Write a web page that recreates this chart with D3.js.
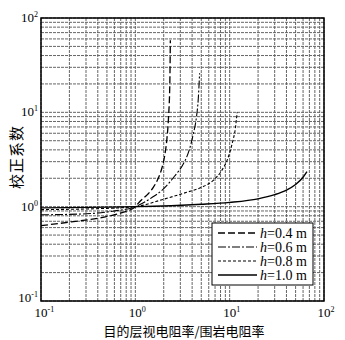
<!DOCTYPE html>
<html><head><meta charset="utf-8">
<script src="https://cdn.jsdelivr.net/npm/d3@7"></script>
<style>body{margin:0;background:#fff}</style>
</head><body>
<svg id="c" width="345" height="340"></svg>
<script>
const xTicks = [0.1, 1, 10, 100];
const yTicks = [0.1, 1, 10, 100];
const tickExp = ["-1", "0", "1", "2"];
const seriesNames = ["h=0.4 m", "h=0.6 m", "h=0.8 m", "h=1.0 m"];
const h04x = [0.1, 0.21, 0.48, 0.71, 1.0, 1.13, 1.35, 1.55, 1.75, 1.92, 2.05, 2.16, 2.25, 2.32, 2.35];
const h04y = [0.63, 0.69, 0.78, 0.86, 1.0, 1.15, 1.35, 1.6, 2.0, 2.6, 3.5, 5.2, 9.0, 20, 58];
const h06x = [0.1, 0.3, 0.6, 1.0, 1.5, 2.0, 2.6, 3.2, 3.7, 4.1, 4.45, 4.65, 4.8];
const h06y = [0.82, 0.84, 0.9, 1.0, 1.25, 1.55, 2.1, 2.8, 3.9, 5.8, 9.0, 14, 26];
const h08x = [0.1, 0.5, 1.0, 2.0, 3.5, 5.0, 6.7, 8.2, 9.5, 10.7, 11.5, 12];
const h08y = [0.93, 0.96, 1.0, 1.2, 1.42, 1.6, 1.9, 2.4, 3.2, 4.8, 6.8, 10];
const h10x = [0.1, 0.5, 1.0, 5, 10, 20, 30, 40, 50, 60, 66];
const h10y = [0.97, 0.99, 1.0, 1.06, 1.11, 1.21, 1.34, 1.5, 1.72, 2.05, 2.35];
const xTitle = "目的层视电阻率/围岩电阻率";
const yTitle = "校正系数";

const series = [
  {name: seriesNames[0], x: h04x, y: h04y, dash: "7,3", w: 1.3},
  {name: seriesNames[1], x: h06x, y: h06y, dash: "8,2,2,2", w: 1.1},
  {name: seriesNames[2], x: h08x, y: h08y, dash: "3,2", w: 1.1},
  {name: seriesNames[3], x: h10x, y: h10y, dash: null, w: 1.4}
];

const L = 41, R = 324, T = 18, B = 301;
const svg = d3.select("#c");
const x = d3.scaleLog().domain([0.1, 100]).range([L, R]);
const y = d3.scaleLog().domain([0.1, 100]).range([B, T]);

// grid
const minor = [];
[0.1, 1, 10].forEach(d => { for (let k = 1; k <= 9; k++) minor.push(d * k); });
minor.push(100);
const g = svg.append("g");
g.selectAll("line.vx").data(minor).join("line")
  .attr("x1", d => x(d)).attr("x2", d => x(d)).attr("y1", T).attr("y2", B)
  .attr("stroke", "#666").attr("stroke-width", 1).attr("stroke-dasharray", "3,1");
g.selectAll("line.hy").data(minor).join("line")
  .attr("y1", d => y(d)).attr("y2", d => y(d)).attr("x1", L).attr("x2", R)
  .attr("stroke", "#666").attr("stroke-width", 1).attr("stroke-dasharray", "3,1");

// curves
const line = d3.line().x(d => x(d[0])).y(d => y(d[1])).curve(d3.curveMonotoneX);
series.forEach(s => {
  svg.append("path").attr("d", line(s.x.map((v, i) => [v, s.y[i]])))
    .attr("fill", "none").attr("stroke", "#000").attr("stroke-width", s.w)
    .attr("stroke-dasharray", s.dash);
});

// frame
svg.append("rect").attr("x", L).attr("y", T).attr("width", R - L).attr("height", B - T)
  .attr("fill", "none").attr("stroke", "#000").attr("stroke-width", 1.5);

// tick labels
const serif = "'Liberation Serif','DejaVu Serif',serif";
xTicks.forEach((d, i) => {
  const t = svg.append("text").attr("x", x(d) - 6.5).attr("y", 317).attr("text-anchor", "start")
    .attr("font-family", serif).attr("font-size", 13);
  t.append("tspan").text("10");
  t.append("tspan").attr("dy", -5).attr("font-size", 8).text(tickExp[i]);
});
yTicks.forEach((d, i) => {
  const t = svg.append("text").attr("x", 38).attr("y", y(d) + (i === 0 ? 1 : 4)).attr("text-anchor", "end")
    .attr("font-family", serif).attr("font-size", 13);
  t.append("tspan").text("10");
  t.append("tspan").attr("dy", -5).attr("font-size", 8).text(tickExp[i]);
});

// titles
svg.append("text").attr("x", 184).attr("y", 336).attr("text-anchor", "middle")
  .attr("font-family", "'Noto Sans CJK SC'").attr("font-size", 13).text(xTitle);
svg.append("text").attr("transform", "translate(22,157) rotate(-90)").attr("text-anchor", "middle")
  .attr("font-family", "'Noto Sans CJK SC'").attr("font-size", 15).attr("letter-spacing", 1).text(yTitle);

// legend
const lg = svg.append("g");
lg.append("rect").attr("x", 212).attr("y", 223).attr("width", 101).attr("height", 62)
  .attr("fill", "#fff").attr("stroke", "#000").attr("stroke-width", 1);
series.forEach((s, i) => {
  const yy = 233 + i * 14;
  lg.append("line").attr("x1", 218).attr("x2", 257).attr("y1", yy).attr("y2", yy)
    .attr("stroke", "#000").attr("stroke-width", s.w).attr("stroke-dasharray", s.dash);
  const parts = s.name.split("=");
  const t = lg.append("text").attr("x", 260).attr("y", yy + 4.5)
    .attr("font-family", serif).attr("font-size", 14);
  t.append("tspan").attr("font-style", "italic").text(parts[0]);
  t.append("tspan").text("=" + parts[1]);
});
</script>
</body></html>
